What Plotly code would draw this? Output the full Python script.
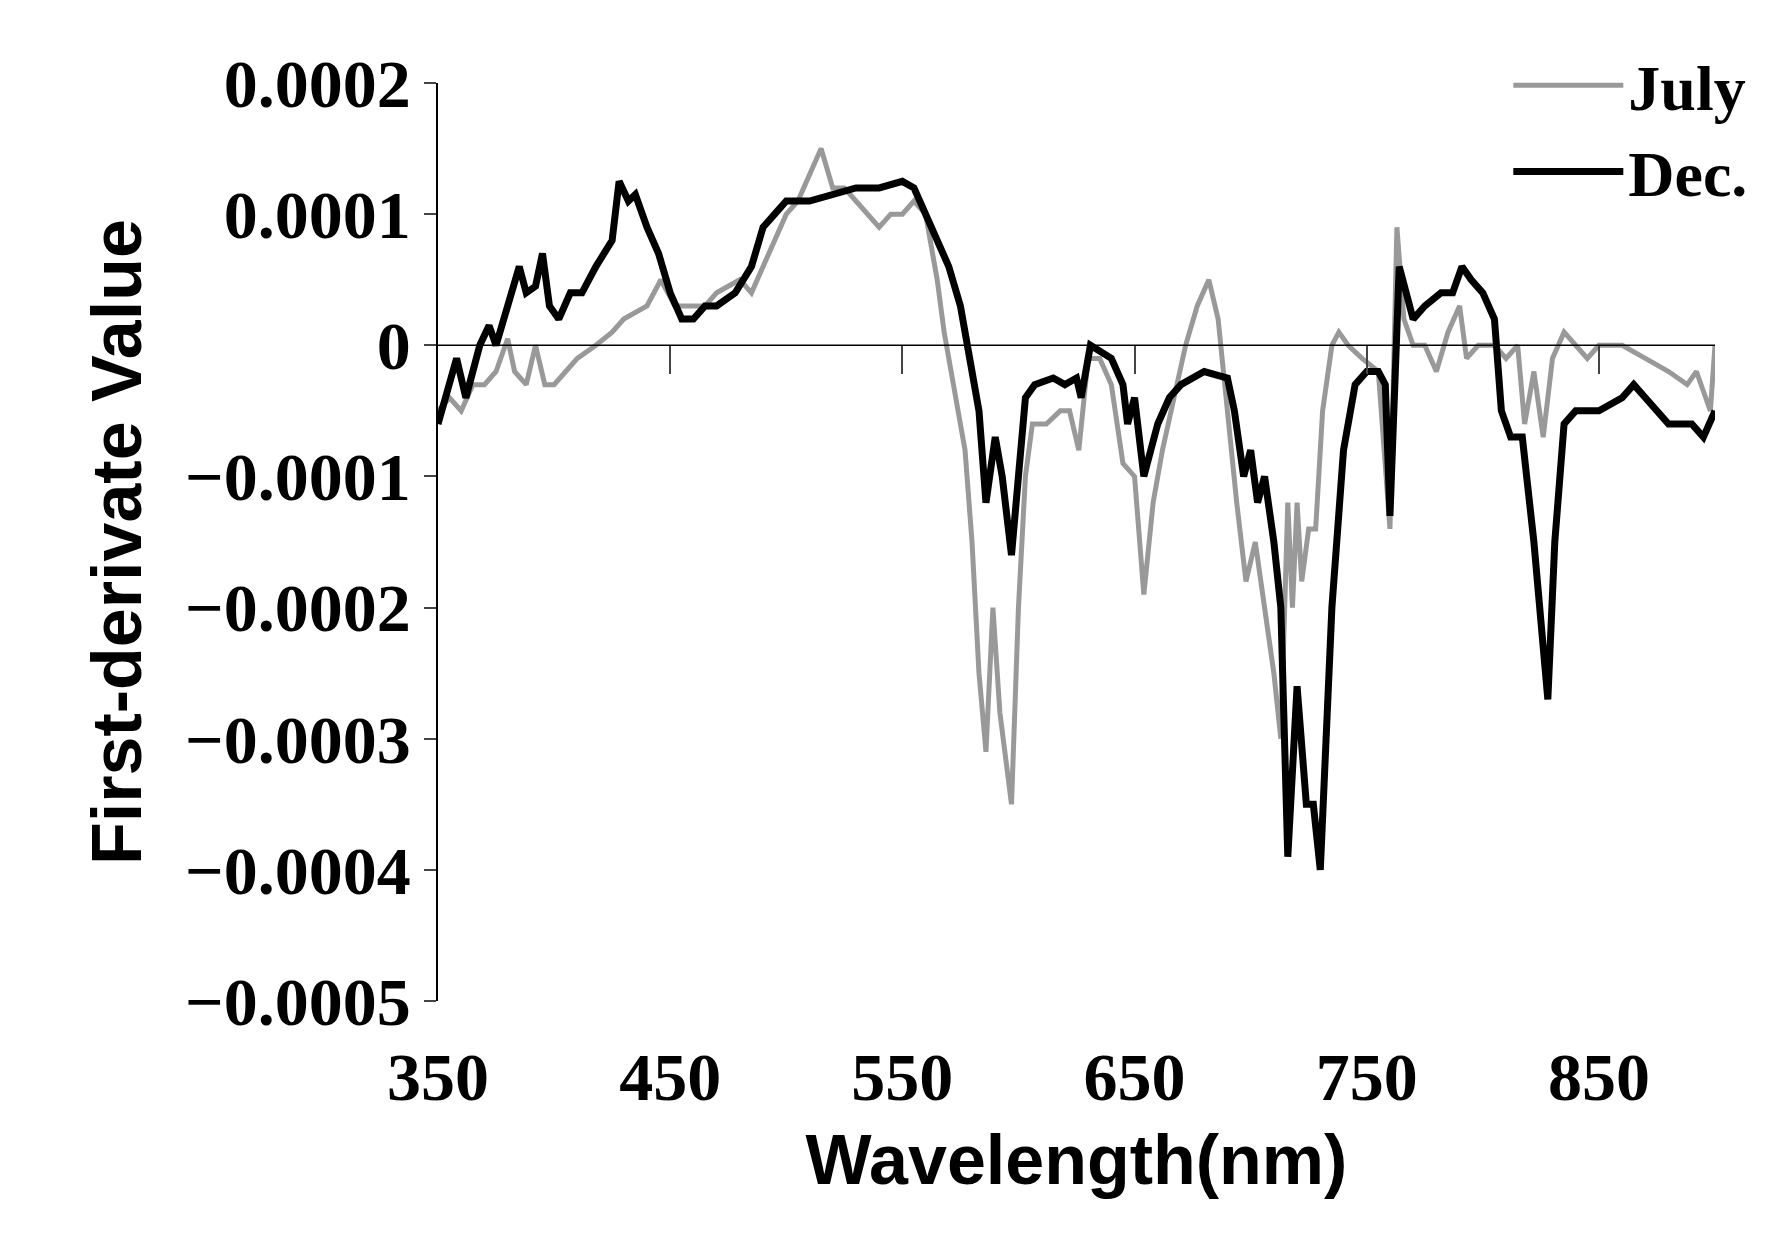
import plotly.graph_objects as go

jul_wl = [350, 355, 360, 365, 370, 375, 380, 383, 388, 392, 396, 400, 405, 410, 418, 425, 430, 440, 446,
          452, 458, 465, 470, 480, 485, 490, 495, 500, 505, 510, 515, 520, 525, 530, 535, 540, 545, 550,
          555, 560, 565, 568, 572, 577, 580, 583, 586, 589, 592, 597, 600, 603, 606, 612, 618, 622, 626,
          630, 635, 640, 645, 650, 654, 658, 662, 667, 672, 677, 682, 686, 690, 694, 698, 702, 706, 710,
          713, 716, 718, 720, 722, 725, 728, 731, 735, 738, 742, 748, 755, 760, 763, 766, 770, 775, 780,
          785, 790, 793, 798, 805, 810, 815, 818, 822, 826, 830, 835, 840, 845, 850, 860, 870, 880, 888,
          892, 896, 898, 900]
jul_val = [-5, -4, -5, -3, -3, -2, 0.5, -2, -3, 0, -3, -3, -2, -1, 0, 1, 2, 3, 5,
           3, 3, 3, 4, 5, 4, 6, 8, 10, 11, 13, 15, 12, 12, 11, 10, 9, 10, 10,
           11, 10, 5, 1, -3, -8, -15, -25, -31, -20, -28, -35, -20, -10, -6, -6, -5, -5, -8,
           -1, -1, -3, -9, -10, -19, -12, -8, -4, 0, 3, 5, 2, -5, -12, -18, -15, -20, -25,
           -30, -12, -20, -12, -18, -14, -14, -5, 0, 1, 0, -1, -2, -14, 9, 2, 0, 0, -2,
           1, 3, -1, 0, 0, -1, 0, -6, -2, -7, -1, 1, 0, -1, 0, 0, -1, -2, -3,
           -2, -4, -5, 0]

dec_wl = [350, 355, 358, 362, 368, 372, 375, 380, 385, 388, 392, 395, 398, 402, 407, 412, 418, 425,
          428, 432, 435, 440, 445, 450, 455, 460, 465, 470, 478, 485, 490, 495, 500, 510, 520, 530, 540,
          550, 555, 560, 565, 570, 575, 578, 583, 586, 590, 593, 597, 600, 603, 607, 615, 620, 625, 627,
          631, 640, 645, 647, 650, 654, 660, 665, 670, 680, 690, 693, 697, 700, 703, 706, 710, 713, 716,
          720, 724, 727, 730, 735, 740, 745, 750, 755, 758, 760, 764, 767, 770, 775, 782, 787, 791, 795,
          800, 805, 808, 812, 817, 822, 826, 828, 831, 835, 840, 850, 860, 865, 870, 875, 880, 890, 895,
          900]
dec_val = [-6, -3, -1, -4, 0, 1.5, 0, 3, 6, 4, 4.5, 7, 3, 2, 4, 4, 6, 8,
           12.5, 11, 11.5, 9, 7, 4, 2, 2, 3, 3, 4, 6, 9, 10, 11, 11, 11.5, 12, 12,
           12.5, 12, 10, 8, 6, 3, 0, -5, -12, -7, -10, -16, -10, -4, -3, -2.5, -3, -2.5, -4,
           0, -1, -3, -6, -4, -10, -6, -4, -3, -2, -2.5, -5, -10, -8, -12, -10, -15, -20, -39,
           -26, -35, -35, -40, -20, -8, -3, -2, -2, -3, -13, 6, 4, 2, 3, 4, 4, 6, 5,
           4, 2, -5, -7, -7, -15, -24, -27, -15, -6, -5, -5, -4, -3, -4, -5, -6, -6, -7,
           -5]

x_ticks = [350, 450, 550, 650, 750, 850]
y_ticks = [2e-4, 1e-4, 0, -1e-4, -2e-4, -3e-4, -4e-4, -5e-4]
y_text = ['0.0002', '0.0001', '0', '\u22120.0001', '\u22120.0002', '\u22120.0003', '\u22120.0004', '\u22120.0005']

serif = dict(family='Liberation Serif', size=68, color='black', weight='bold')
leg_font = dict(family='Liberation Serif', size=64, color='black', weight='bold')
sans = dict(family='Liberation Sans', size=70, color='black', weight='bold')

fig = go.Figure()
fig.add_trace(go.Scatter(x=jul_wl, y=[v * 1e-5 for v in jul_val], name='July', mode='lines',
                         line=dict(color='#999999', width=5)))
fig.add_trace(go.Scatter(x=dec_wl, y=[v * 1e-5 for v in dec_val], name='Dec.', mode='lines',
                         line=dict(color='black', width=7)))
# ghost trace for the axis drawn through zero
fig.add_trace(go.Scatter(x=[350, 900], y=[0, 0], xaxis='x2', mode='lines',
                         line=dict(color='black', width=1.5), showlegend=False, hoverinfo='skip'))

fig.update_layout(
    width=1779, height=1259,
    paper_bgcolor='white', plot_bgcolor='white',
    margin=dict(l=430, r=72, t=75, b=266),
    xaxis=dict(range=[350, 900], tickvals=x_ticks, showline=False, showgrid=False, zeroline=False,
               ticks='', tickfont=serif, ticklabelstandoff=30,
               title=dict(text='Wavelength(nm)', font=sans, standoff=20)),
    xaxis2=dict(range=[350, 900], overlaying='x', anchor='free', position=5 / 7,
                tickvals=[450, 550, 650, 750, 850], showticklabels=False, ticks='outside',
                ticklen=28, tickwidth=1.5, showline=False, showgrid=False, zeroline=False),
    yaxis=dict(range=[-5e-4, 2e-4], tickvals=y_ticks, ticktext=y_text, showline=True,
               linecolor='black', linewidth=1.5, ticks='outside', ticklen=12, tickwidth=1.5,
               showgrid=False, zeroline=False, tickfont=serif,
               title=dict(text='First-derivate Value', font=sans, standoff=20)),
    legend=dict(x=1.03, y=1.05, xanchor='right', yanchor='top', font=leg_font,
                bgcolor='rgba(0,0,0,0)', tracegroupgap=40, itemwidth=110),
)
fig.write_html('out.html')
